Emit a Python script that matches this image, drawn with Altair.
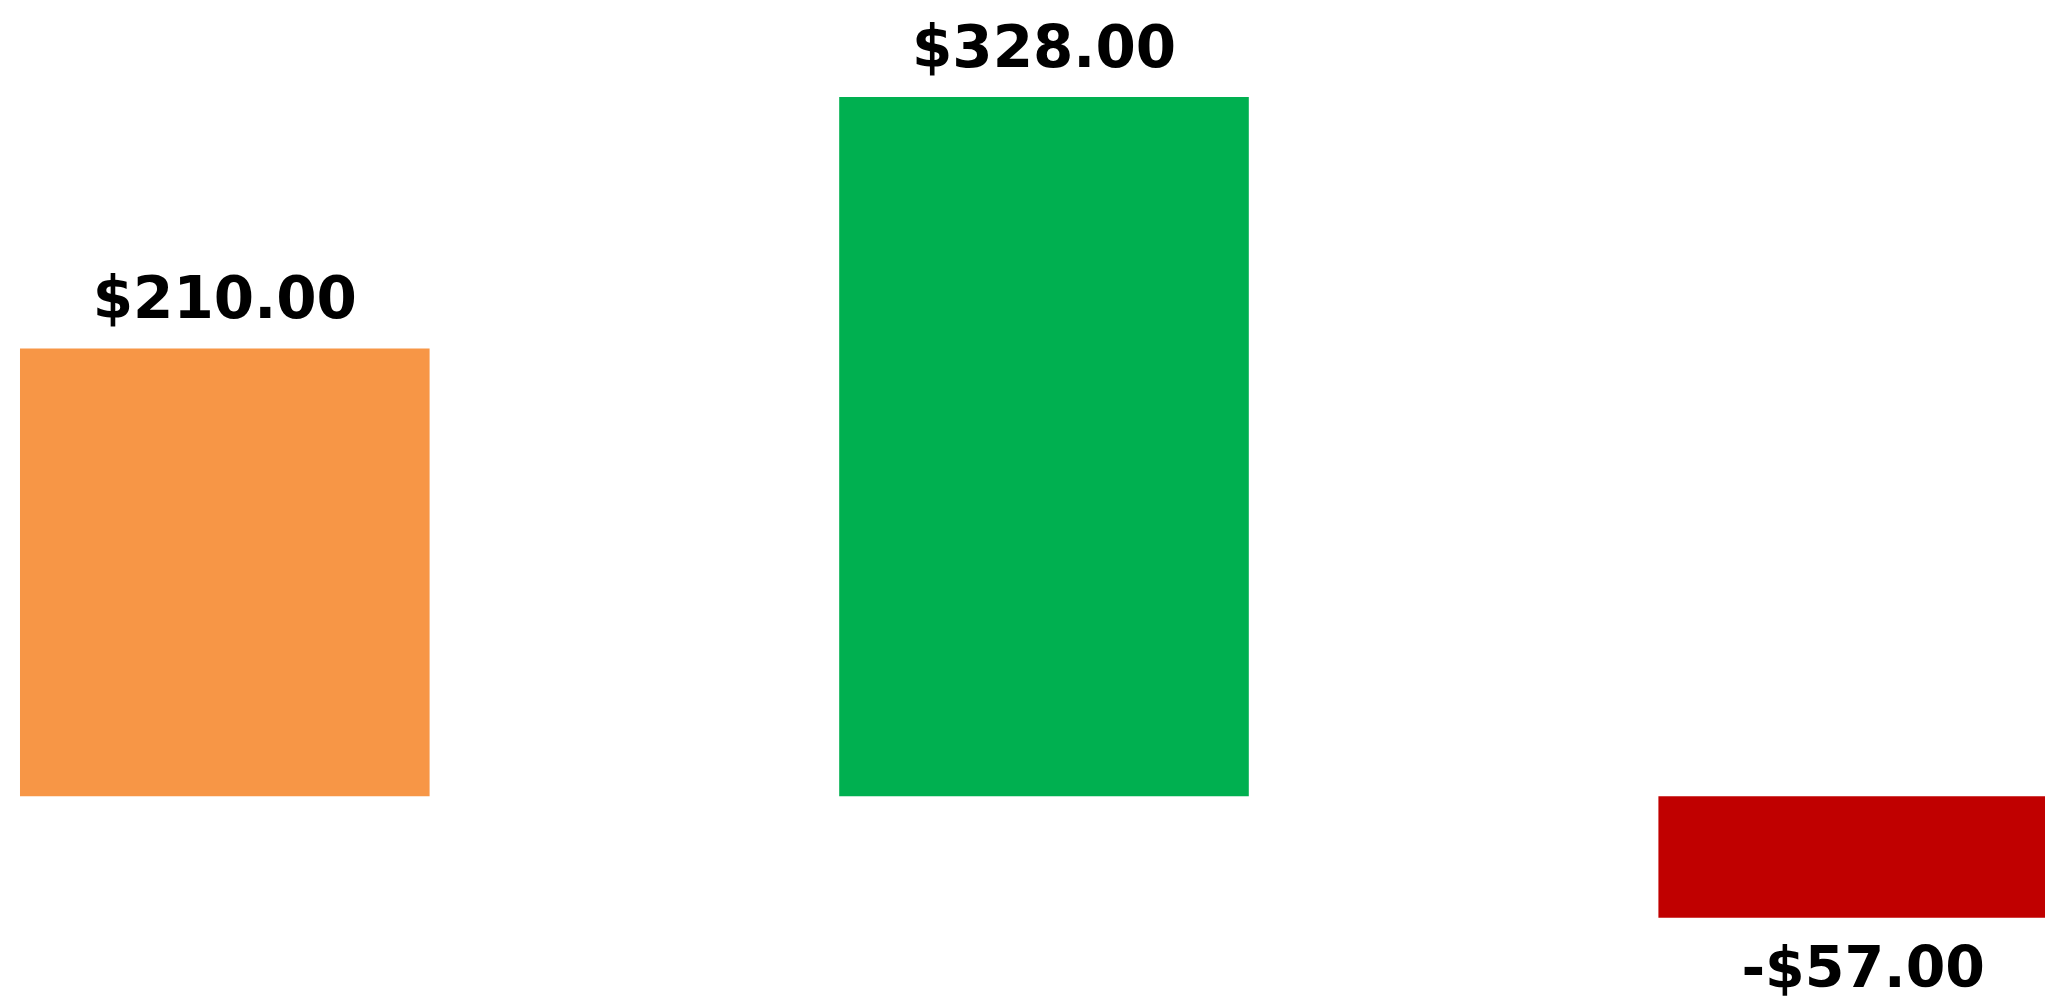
import altair as alt
import pandas as pd

categories = ["A", "B", "C"]
values = [210, 328, -57]
labels = ["$210.00", "$328.00", "-$57.00"]
colors = ["#F79646", "#00B050", "#C00000"]

df = pd.DataFrame({"cat": categories, "value": values, "label": labels, "color": colors})

x = alt.X("cat:N", sort=categories, axis=None,
          scale=alt.Scale(range=[0, 2088], paddingInner=0.5, paddingOuter=0.0244))
y = alt.Y("value:Q", axis=None, scale=alt.Scale(domain=[-95.6, 373.45], nice=False, zero=False))

bars = alt.Chart(df).mark_bar(clip=True).encode(
    x=x, y=y, y2=alt.datum(0), color=alt.Color("color:N", scale=None)
)

font = "DejaVu Sans"
pos = alt.Chart(df).transform_filter("datum.value >= 0").mark_text(
    font=font, fontSize=58, fontWeight="bold", baseline="alphabetic", dy=-30, color="black"
).encode(x=x, y=y, text="label:N")

neg = alt.Chart(df).transform_filter("datum.value < 0").mark_text(
    font=font, fontSize=57, fontWeight="bold", baseline="alphabetic", dy=69, color="black"
).encode(x=x, y=y, text="label:N")

chart = alt.layer(bars, pos, neg).properties(
    width=2045, height=1000, padding=0, autosize=alt.AutoSizeParams(type="none")
).configure_view(stroke=None)

chart.save("out.html", embed_options={"renderer": "svg", "actions": False})
